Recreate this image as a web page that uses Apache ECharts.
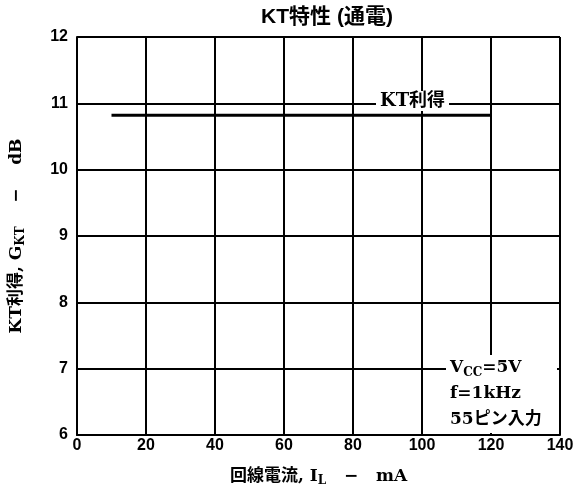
<!DOCTYPE html>
<html>
<head>
<meta charset="utf-8">
<script src="https://cdn.jsdelivr.net/npm/echarts@6/dist/echarts.min.js"></script>
<style>
  html,body{margin:0;padding:0;background:#fff;}
  #c{width:579px;height:492px;}
</style>
</head>
<body>
<div id="c"></div>
<script>
/* KT特性 (通電) — 回線電流 vs KT利得 */
const X_TICKS = [0, 20, 40, 60, 80, 100, 120, 140];
const Y_TICKS = [6, 7, 8, 9, 10, 11, 12];
const IL = [10, 120];            // mA
const GKT = [10.82, 10.82];      // dB
const NOTES = ['{v|V}{s|CC}{v|=5V}', 'f=1kHz', '55ピン入力'];

const FONT = '"Liberation Sans", "Noto Sans CJK JP", sans-serif';
const SERIF = '"DejaVu Serif", "Noto Sans CJK JP", serif';
const INK = '#000';

const ch = echarts.init(document.getElementById('c'), null, {renderer: 'canvas'});

const GRID = {left: 75, right: 19, top: 37, bottom: 57};

ch.setOption({
  animation: false,
  backgroundColor: '#fff',
  textStyle: {fontFamily: FONT},
  title: {
    text: 'KT特性 (通電)', left: 322, top: 2, textAlign: 'center',
    textStyle: {fontFamily: FONT, fontSize: 21, fontWeight: 'bold', color: INK}
  },
  grid: GRID,
  xAxis: {
    type: 'value', min: X_TICKS[0], max: X_TICKS[X_TICKS.length - 1], interval: 20,
    axisLine: {show: true, lineStyle: {color: INK, width: 2}},
    axisTick: {show: false},
    splitLine: {show: true, lineStyle: {color: INK, width: 2}},
    axisLabel: {color: INK, fontSize: 16, fontWeight: 'bold', margin: 3, fontFamily: FONT},
    name: '{t|回線電流, I}{s|L}{t|   −   mA}', nameLocation: 'middle', nameGap: 31,
    nameTextStyle: {rich: {
      t: {fontFamily: SERIF, fontSize: 17, fontWeight: 'bold', color: INK},
      s: {fontFamily: SERIF, fontSize: 12, fontWeight: 'bold', color: INK, padding: [9, 0, 0, 0]}
    }}
  },
  yAxis: {
    type: 'value', min: Y_TICKS[0], max: Y_TICKS[Y_TICKS.length - 1], interval: 1,
    axisLine: {show: true, lineStyle: {color: INK, width: 2}},
    axisTick: {show: false},
    splitLine: {show: true, lineStyle: {color: INK, width: 2}},
    axisLabel: {color: INK, fontSize: 16, fontWeight: 'bold', margin: 9, fontFamily: FONT},
    name: '{t|KT利得, G}{s|KT}{t|    −    dB}', nameLocation: 'middle', nameGap: 50, nameRotate: 90,
    nameTextStyle: {rich: {
      t: {fontFamily: SERIF, fontSize: 17, fontWeight: 'bold', color: INK},
      s: {fontFamily: SERIF, fontSize: 12, fontWeight: 'bold', color: INK, padding: [9, 0, 0, 0]}
    }}
  },
  series: [{
    type: 'line', name: 'KT利得',
    data: IL.map((x, i) => [x, GKT[i]]),
    showSymbol: false, lineStyle: {color: INK, width: 3}, z: 5
  }],
  graphic: [
    // 曲線ラベル (11 dB 線上)
    {type: 'text', left: 376, top: 91, z: 10,
     style: {text: 'KT利得', font: 'bold 18px ' + SERIF, fill: INK,
       backgroundColor: '#fff', padding: [1, 4, 1, 4]}},
    // 条件ボックス
    {type: 'rect', shape: {x: 446, y: 355, width: 111, height: 78}, z: 10,
     style: {fill: '#fff'}},
    {type: 'text', left: 450, top: 355, z: 11,
     style: {text: NOTES.join('\n'), lineHeight: 26, fill: INK,
       font: 'bold 17px ' + SERIF,
       rich: {
         v: {fontFamily: SERIF, fontSize: 17, fontWeight: 'bold', fill: INK},
         s: {fontFamily: SERIF, fontSize: 12, fontWeight: 'bold', fill: INK, padding: [9, 0, 0, 0]}
       }}}
  ]
});
</script>
</body>
</html>
